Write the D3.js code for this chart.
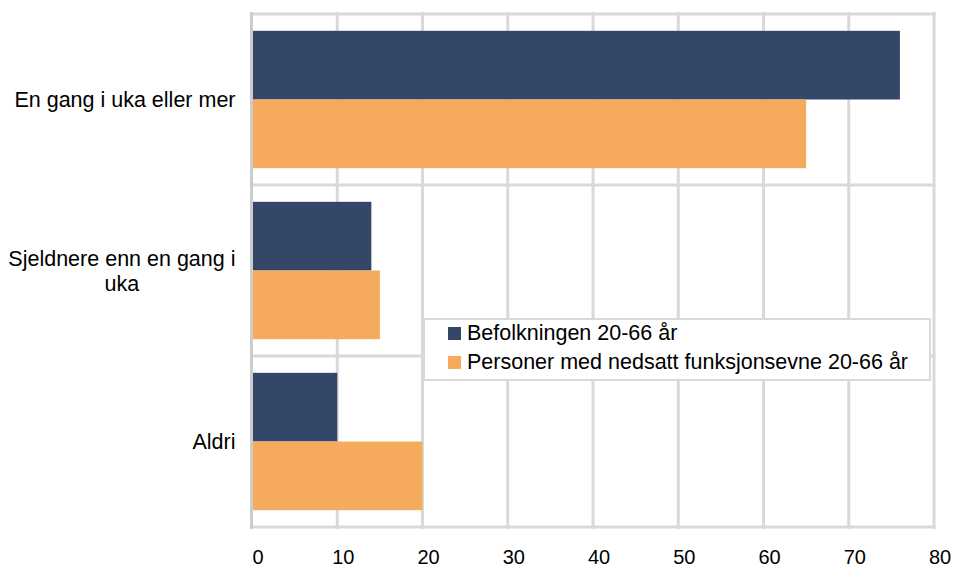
<!DOCTYPE html>
<html>
<head>
<meta charset="utf-8">
<script src="https://cdn.jsdelivr.net/npm/d3@7"></script>
<style>
  body { margin: 0; background: #fff; }
  text { font-family: "Liberation Sans", Arial, sans-serif; fill: #000; }
</style>
</head>
<body>
<div id="chart"></div>
<script>
var categories = ["En gang i uka eller mer", "Sjeldnere enn en gang i uka", "Aldri"];
var catLines = [["En gang i uka eller mer"], ["Sjeldnere enn en gang i", "uka"], ["Aldri"]];
var seriesNames = ["Befolkningen 20-66 år", "Personer med nedsatt funksjonsevne 20-66 år"];
var befolkningen = [76, 14, 10];
var nedsatt = [65, 15, 20];
var xTicks = [0, 10, 20, 30, 40, 50, 60, 70, 80];
var colors = ["#344768", "#f5aa5e"];

var width = 955, height = 567;
var plotLeft = 252, plotRight = 934, plotTop = 14, plotBottom = 527;

var svg = d3.select("#chart").append("svg")
	.attr("width", width)
	.attr("height", height);

var x = d3.scaleLinear().domain([0, 80]).range([plotLeft, plotRight]);
var y = d3.scaleBand().domain(categories).range([plotTop, plotBottom]).padding(0);
var ySub = d3.scaleBand().domain([0, 1]).range([0, y.bandwidth()])
	.paddingInner(0).paddingOuter(0.245);

var grid = svg.append("g");
// vertical gridlines
grid.selectAll("line.v")
	.data(xTicks.slice(1))
	.enter().append("line")
	.attr("x1", d => x(d)).attr("x2", d => x(d))
	.attr("y1", plotTop - 2).attr("y2", plotBottom + 2)
	.style("stroke", "#d9d9d9")
	.style("stroke-width", 3);
// horizontal gridlines at category edges
var edges = categories.map(c => y(c)).concat([plotBottom]);
grid.selectAll("line.h")
	.data(edges)
	.enter().append("line")
	.attr("x1", plotLeft).attr("x2", plotRight + 1.5)
	.attr("y1", d => d).attr("y2", d => d)
	.style("stroke", "#d9d9d9")
	.style("stroke-width", 3);

// bars
var seriesData = [befolkningen, nedsatt];
seriesData.forEach(function(vals, si) {
	svg.append("g").selectAll("rect")
		.data(vals)
		.enter().append("rect")
		.attr("x", x(0) + 0.5)
		.attr("y", (d, i) => y(categories[i]) + ySub(si))
		.attr("width", d => x(d) - x(0) - 0.5)
		.attr("height", ySub.bandwidth())
		.style("fill", colors[si]);
});

// left axis line
svg.append("line")
	.attr("x1", x(0) - 0.5).attr("x2", x(0) - 0.5)
	.attr("y1", plotTop - 2).attr("y2", plotBottom + 2)
	.style("stroke", "#cccccc")
	.style("stroke-width", 3);

// x tick labels
svg.append("g").selectAll("text")
	.data(xTicks)
	.enter().append("text")
	.attr("x", d => x(d) + 6)
	.attr("y", 564)
	.attr("text-anchor", "middle")
	.style("font-size", "20px")
	.text(d => d);

// category labels
catLines.forEach(function(lines, i) {
	var cy = y(categories[i]) + y.bandwidth() / 2;
	var lh = 25;
	var t = svg.append("text")
		.style("font-size", "21.5px")
		.attr("text-anchor", "middle");
	lines.forEach(function(l, j) {
		t.append("tspan")
			.attr("y", cy - (lines.length - 1) * lh / 2 + j * lh + 7.7)
			.text(l);
	});
	var maxW = 0;
	t.selectAll("tspan").each(function() {
		maxW = Math.max(maxW, this.getComputedTextLength());
	});
	t.selectAll("tspan").attr("x", 235.5 - maxW / 2);
});

// legend
var lg = svg.append("g");
lg.append("rect")
	.attr("x", 424).attr("y", 319)
	.attr("width", 506).attr("height", 61)
	.style("fill", "#fff")
	.style("stroke", "#d9d9d9")
	.style("stroke-width", 2);
seriesNames.forEach(function(name, i) {
	lg.append("rect")
		.attr("x", 448).attr("y", 327 + i * 29)
		.attr("width", 13).attr("height", 13)
		.style("fill", colors[i]);
	lg.append("text")
		.attr("x", 467).attr("y", 340 + i * 29)
		.style("font-size", "21.5px")
		.text(name);
});
</script>
</body>
</html>
